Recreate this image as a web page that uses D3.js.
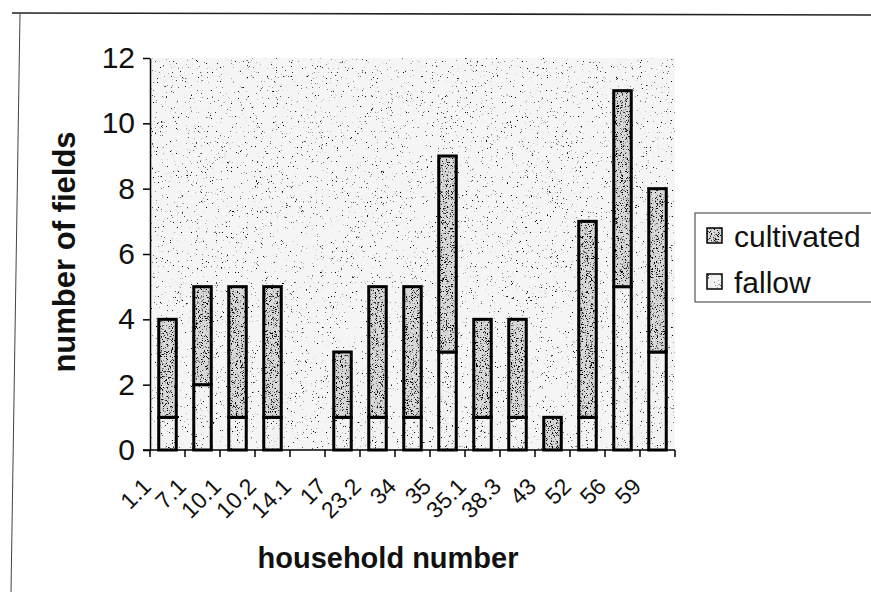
<!DOCTYPE html>
<html lang='en'>
<head>
  <title>Fields per household</title>
  <script src='https://cdn.jsdelivr.net/npm/d3@7/dist/d3.min.js'></script>
  <style>
    body { margin: 0; background: #fff; }
    text { font-family: "Liberation Sans", Arial, sans-serif; fill: #111; }
  </style>
</head>
<body>
  <script>
    // data
    let households = ["1.1", "7.1", "10.1", "10.2", "14.1", "17", "23.2", "34", "35", "35.1", "38.3", "43", "52", "56", "59"];
    let fallow     = [1, 2, 1, 1, 0, 1, 1, 1, 3, 1, 1, 0, 1, 5, 3];
    let cultivated = [3, 3, 4, 4, 0, 2, 4, 4, 6, 3, 3, 1, 6, 6, 5];
    let yTicks = [0, 2, 4, 6, 8, 10, 12];
    let seriesNames = ["cultivated", "fallow"];

    let width = 871, height = 592;
    let plot = { left: 150, right: 675, top: 58, bottom: 450 };

    let svg = d3.select("body").append("svg")
      .attr("width", width)
      .attr("height", height);

    // stippled textures, like the printed greys
    let defs = svg.append("defs");
    function grain(id, slope, offset, seed) {
      let f = defs.append("filter").attr("id", id)
        .attr("x", 0).attr("y", 0).attr("width", 1).attr("height", 1);
      f.append("feTurbulence").attr("type", "fractalNoise")
        .attr("baseFrequency", 2.2).attr("numOctaves", 2).attr("seed", seed);
      f.append("feColorMatrix").attr("type", "matrix")
        .attr("values", `0 0 0 0 0  0 0 0 0 0  0 0 0 0 0  ${slope} 0 0 0 ${offset}`);
      f.append("feComposite").attr("in2", "SourceGraphic").attr("operator", "in");
    }
    grain("grainBg", 10, -7.0, 2);
    grain("grainFallow", 10, -6.8, 5);
    grain("grainCult", 9, -5.2, 9);

    let tone = { cultivated: "#d8d8d8", fallow: "#f3f3f3" };
    let dots = { cultivated: "#555", fallow: "#777" };
    let grainId = { cultivated: "grainCult", fallow: "grainFallow" };

    // outer frame of the scanned chart
    svg.append("line").attr("x1", 12).attr("y1", 13).attr("x2", 871).attr("y2", 15)
      .attr("stroke", "#222").attr("stroke-width", 1.6);
    svg.append("line").attr("x1", 20).attr("y1", 13).attr("x2", 11).attr("y2", 592)
      .attr("stroke", "#444").attr("stroke-width", 1);

    // scales
    let x = d3.scaleBand()
      .domain(households)
      .range([plot.left, plot.right])
      .paddingInner(0.5)
      .paddingOuter(0.25);
    let step = x.step();
    let y = d3.scaleLinear()
      .domain([0, 12])
      .range([plot.bottom, plot.top]);

    // plot area
    let pw = plot.right - plot.left, ph = plot.bottom - plot.top;
    svg.append("rect").attr("x", plot.left).attr("y", plot.top)
      .attr("width", pw).attr("height", ph).attr("fill", "#f5f5f5");
    svg.append("rect").attr("x", plot.left).attr("y", plot.top)
      .attr("width", pw).attr("height", ph).attr("fill", "#777")
      .attr("filter", "url(#grainBg)");

    // stacked bars
    let rows = households.map((h, i) => ({ household: h, fallow: fallow[i], cultivated: cultivated[i] }));
    let stack = d3.stack().keys(["fallow", "cultivated"])(rows);

    let segments = [];
    stack.forEach(layer => {
      layer.forEach(d => {
        if (d[1] > d[0]) segments.push({ key: layer.key, household: d.data.household, y0: d[0], y1: d[1] });
      });
    });

    let bars = svg.append("g").selectAll("g").data(segments).join("g");
    bars.append("rect")
      .attr("x", d => x(d.household))
      .attr("y", d => y(d.y1))
      .attr("width", x.bandwidth())
      .attr("height", d => y(d.y0) - y(d.y1))
      .attr("fill", d => tone[d.key]);
    bars.append("rect")
      .attr("x", d => x(d.household))
      .attr("y", d => y(d.y1))
      .attr("width", x.bandwidth())
      .attr("height", d => y(d.y0) - y(d.y1))
      .attr("fill", d => dots[d.key])
      .attr("filter", d => `url(#${grainId[d.key]})`);
    bars.append("rect")
      .attr("x", d => x(d.household))
      .attr("y", d => y(d.y1))
      .attr("width", x.bandwidth())
      .attr("height", d => y(d.y0) - y(d.y1))
      .attr("fill", "none")
      .attr("stroke", "#000")
      .attr("stroke-width", 3);

    // y axis
    let yAxis = svg.append("g")
      .attr("transform", `translate(${plot.left},0)`)
      .call(d3.axisLeft(y).tickValues(yTicks).tickSize(7).tickPadding(8).tickSizeOuter(0));
    yAxis.select(".domain").attr("stroke", "#000").attr("stroke-width", 1.5);
    yAxis.selectAll(".tick line").attr("stroke", "#000").attr("stroke-width", 1.5);
    yAxis.selectAll(".tick text")
      .style("font-size", "30px")
      .style("font-family", "'Liberation Sans', Arial, sans-serif")
      .attr("fill", "#111");

    // x axis: line, ticks between categories, slanted labels
    let xAxis = svg.append("g");
    xAxis.append("line")
      .attr("x1", plot.left - 7).attr("x2", plot.right)
      .attr("y1", plot.bottom).attr("y2", plot.bottom)
      .attr("stroke", "#000").attr("stroke-width", 1.5);
    let bounds = households.map(h => x(h) - step * 0.25).concat([plot.right]);
    xAxis.selectAll(".xtick").data(bounds).join("line")
      .attr("x1", d => d).attr("x2", d => d)
      .attr("y1", plot.bottom).attr("y2", plot.bottom + 7)
      .attr("stroke", "#000").attr("stroke-width", 1.5);
    xAxis.selectAll(".xlabel").data(households).join("text")
      .attr("transform", d => `translate(${x(d) + x.bandwidth() / 2 - 15},${plot.bottom + 38}) rotate(-45)`)
      .attr("text-anchor", "end")
      .style("font-size", "23px")
      .text(d => d);

    // axis titles
    svg.append("text")
      .attr("x", 388).attr("y", 568)
      .attr("text-anchor", "middle")
      .style("font-size", "29px").style("font-weight", "bold")
      .text("household number");
    svg.append("text")
      .attr("transform", `translate(75,${(plot.top + plot.bottom) / 2 - 2}) rotate(-90)`)
      .attr("text-anchor", "middle")
      .style("font-size", "31px").style("font-weight", "bold")
      .text("number of fields");

    // legend
    let legend = svg.append("g");
    legend.append("rect")
      .attr("x", 695).attr("y", 213).attr("width", 200).attr("height", 89)
      .attr("fill", "#fff").attr("stroke", "#333").attr("stroke-width", 1);
    let items = legend.selectAll(".item").data(seriesNames).join("g")
      .attr("transform", (d, i) => `translate(707,${228 + i * 46})`);
    items.append("rect").attr("width", 15).attr("height", 15).attr("fill", d => tone[d]);
    items.append("rect").attr("width", 15).attr("height", 15).attr("fill", d => dots[d])
      .attr("filter", d => `url(#${grainId[d]})`);
    items.append("rect").attr("width", 15).attr("height", 15)
      .attr("fill", "none").attr("stroke", "#000").attr("stroke-width", 1.5);
    items.append("text")
      .attr("x", 27).attr("y", 19)
      .style("font-size", "30px")
      .text(d => d);
  </script>
</body>
</html>
